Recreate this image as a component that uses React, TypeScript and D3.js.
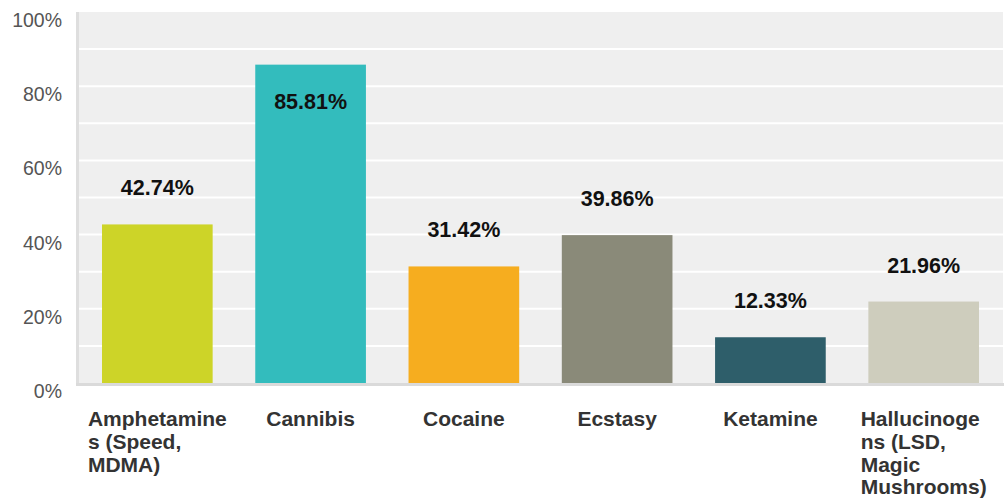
import React, { useEffect, useRef } from "react";
import * as d3 from "d3";

const categories = ["Amphetamines (Speed, MDMA)", "Cannibis", "Cocaine", "Ecstasy", "Ketamine", "Hallucinogens (LSD, Magic Mushrooms)"];
const labelLines = [
  ["Amphetamine", "s (Speed,", "MDMA)"],
  ["Cannibis"],
  ["Cocaine"],
  ["Ecstasy"],
  ["Ketamine"],
  ["Hallucinoge", "ns (LSD,", "Magic", "Mushrooms)"],
];
const values = [42.74, 85.81, 31.42, 39.86, 12.33, 21.96];
const colors = ["#cdd428", "#33bcbd", "#f6ad1f", "#8a8a79", "#2e5e6a", "#cecdbd"];
const yTickValues = [0, 20, 40, 60, 80, 100];
const gridValues = [10, 20, 30, 40, 50, 60, 70, 80, 90];

const W = 1004;
const H = 499;
const FONT = "'Liberation Sans', Arial, Helvetica, sans-serif";

export default function App() {
  const ref = useRef<SVGSVGElement | null>(null);

  useEffect(() => {
    const svg = d3.select(ref.current);
    svg.selectAll("*").remove();

    const left = 79, right = 1002, top = 12, bottom = 383;
    const x = d3.scaleBand<string>().domain(categories).range([left, right]).paddingInner(0.278).paddingOuter(0.15);
    const y = d3.scaleLinear().domain([0, 100]).range([bottom, top]);

    // plot background
    svg.append("rect").attr("x", left - 1).attr("y", top).attr("width", right - left + 2).attr("height", bottom - top).attr("fill", "#efefef");

    // gridlines
    svg.append("g").selectAll("line").data(gridValues).join("line")
      .attr("x1", left).attr("x2", right + 1)
      .attr("y1", (d) => y(d)).attr("y2", (d) => y(d))
      .attr("stroke", "#ffffff").attr("stroke-width", 2);

    // left border
    svg.append("rect").attr("x", left - 3).attr("y", top).attr("width", 3).attr("height", bottom - top + 3).attr("fill", "#dedede");
    // bottom axis line
    svg.append("rect").attr("x", left - 3).attr("y", bottom).attr("width", right - left + 5).attr("height", 3).attr("fill", "#dadada");

    // y tick labels
    svg.append("g").selectAll("text").data(yTickValues).join("text")
      .attr("x", 62).attr("y", (d) => y(d) + 15)
      .attr("text-anchor", "end")
      .attr("font-family", FONT).attr("font-size", 19.5).attr("fill", "#555")
      .text((d) => `${d}%`);

    // bars
    svg.append("g").selectAll("rect").data(values).join("rect")
      .attr("x", (_d, i) => x(categories[i])!)
      .attr("width", x.bandwidth())
      .attr("y", (d) => y(d))
      .attr("height", (d) => bottom - y(d))
      .attr("fill", (_d, i) => colors[i]);

    // value labels (inside the bar when there is no room above it)
    svg.append("g").selectAll("text").data(values).join("text")
      .attr("x", (_d, i) => x(categories[i])! + x.bandwidth() / 2)
      .attr("y", (d) => (y(d) - 60 < top ? y(d) + 44 : y(d) - 29))
      .attr("text-anchor", "middle")
      .attr("font-family", FONT).attr("font-size", 21.5).attr("font-weight", "bold").attr("fill", "#111")
      .text((d) => `${d.toFixed(2)}%`);

    // category labels
    const cat = svg.append("g");
    labelLines.forEach((lines, i) => {
      const g = cat.append("g");
      const texts = lines.map((ln, j) =>
        g.append("text")
          .attr("y", bottom + 43 + j * 22.8)
          .attr("font-family", FONT).attr("font-size", 21).attr("font-weight", "bold").attr("fill", "#333")
          .text(ln)
      );
      let maxW = 0;
      texts.forEach((t) => {
        const n = t.node() as SVGTextElement;
        maxW = Math.max(maxW, n.getComputedTextLength());
      });
      const cx = x(categories[i])! + x.bandwidth() / 2;
      texts.forEach((t) => t.attr("x", cx - maxW / 2));
    });
  }, []);

  return (
    <svg ref={ref} width={W} height={H} style={{ position: "absolute", left: 0, top: 0, background: "#fff" }} />
  );
}
